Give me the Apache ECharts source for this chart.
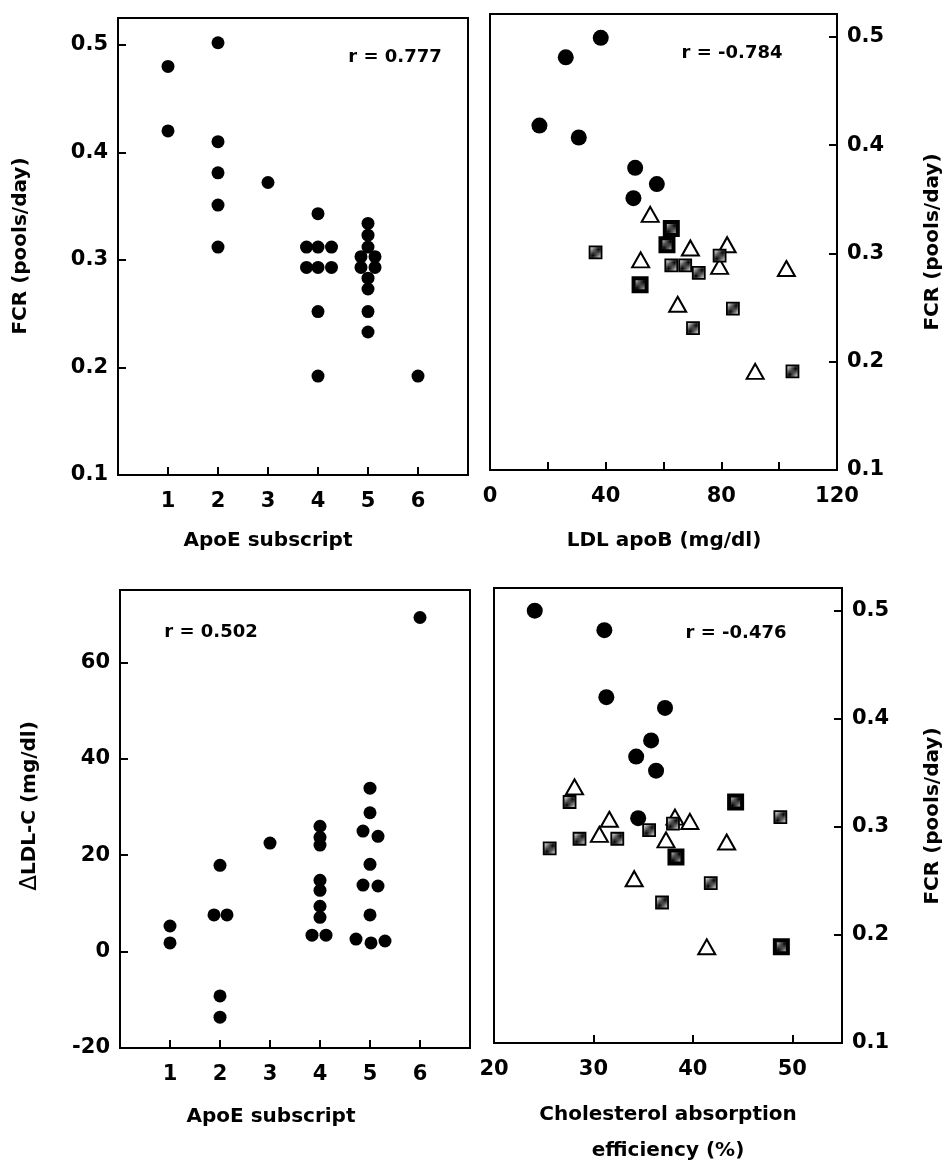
<!DOCTYPE html>
<html><head><meta charset="utf-8">
<script src="https://cdn.jsdelivr.net/npm/echarts@6/dist/echarts.min.js"></script>
<style>html,body{margin:0;padding:0;background:#fff}#c{width:952px;height:1163px}</style>
</head><body><div id="c"></div>
<script>
// Panel 1: ApoE subscript vs FCR
const p1X = [1,1, 2,2,2,2,2, 3, 4, 3.77,4,4.27, 3.77,4,4.27, 4,4, 5,5,5, 4.86,5.14, 4.86,5.14, 5,5,5,5, 6];
const p1Y = [0.48,0.42, 0.502,0.41,0.381,0.351,0.312, 0.372, 0.343, 0.312,0.312,0.312, 0.293,0.293,0.293, 0.252,0.192, 0.334,0.323,0.312, 0.303,0.303, 0.293,0.293, 0.283,0.273,0.252,0.233, 0.192];
// Panel 2: LDL apoB vs FCR
const p2CircX = [26.2, 38.3, 17.1, 30.7, 50.2, 57.7, 49.6];
const p2CircY = [0.481, 0.499, 0.418, 0.407, 0.379, 0.364, 0.351];
const p2TriX = [55.4, 69.3, 82.0, 52.1, 79.4, 102.5, 64.9, 91.7];
const p2TriY = [0.336, 0.305, 0.308, 0.294, 0.288, 0.286, 0.253, 0.191];
const p2SqX = [36.5, 62.7, 67.5, 72.2, 79.4, 84.0, 70.2, 104.6];
const p2SqY = [0.301, 0.289, 0.289, 0.282, 0.298, 0.249, 0.231, 0.191];
const p2BoxX = [62.7, 61.2, 51.9];
const p2BoxY = [0.323, 0.308, 0.271];
// Panel 3: ApoE subscript vs delta LDL-C
const p3X = [1,1, 2,1.88,2.14,2,2, 3, 4,4,4,4,4,4,4,3.84,4.12, 5,5,4.86,5.16,5,4.86,5.16,5,4.72,5.02,5.3, 6];
const p3Y = [5.3,1.8, 17.9,7.6,7.6,-9.2,-13.6, 22.5, 26.0,23.7,22.1,14.8,12.7,9.4,7.1,3.4,3.4, 33.9,28.8,25.0,23.9,18.1,13.8,13.6,7.6,2.6,1.8,2.2, 69.3];
// Panel 4: Cholesterol absorption efficiency vs FCR
const p4CircX = [24.1, 31.1, 31.3, 37.2, 35.8, 34.3, 36.3, 34.5];
const p4CircY = [0.500, 0.482, 0.420, 0.410, 0.380, 0.365, 0.352, 0.308];
const p4TriX = [28.1, 31.6, 30.6, 38.2, 39.7, 37.3, 43.4, 34.1, 41.4];
const p4TriY = [0.337, 0.307, 0.293, 0.309, 0.305, 0.288, 0.286, 0.252, 0.189];
const p4SqX = [27.6, 48.8, 35.6, 38.0, 28.6, 32.4, 25.6, 41.8, 36.9];
const p4SqY = [0.323, 0.309, 0.297, 0.303, 0.289, 0.289, 0.280, 0.248, 0.230];
const p4BoxX = [44.3, 38.3, 48.9];
const p4BoxY = [0.323, 0.272, 0.189];
// annotations / titles
const rTexts = ['r = 0.777', 'r = -0.784', 'r = 0.502', 'r = -0.476'];
const fcrTitle = 'FCR (pools/day)';
const apoeTitle = 'ApoE subscript';
const ldlTitle = 'LDL apoB (mg/dl)';
const absTitle = ['Cholesterol absorption', 'efficiency (%)'];
const dLdlTitle = 'LDL-C (mg/dl)';

const zip = (a, b) => a.map((v, i) => [v, b[i]]);
const FONT = 'DejaVu Sans';

function hatch() {
  const n = 6;
  const c = document.createElement('canvas');
  c.width = n; c.height = n;
  const g = c.getContext('2d');
  g.fillStyle = '#fff'; g.fillRect(0, 0, n, n);
  g.strokeStyle = '#000'; g.lineWidth = 1.3;
  g.beginPath();
  g.moveTo(-1, n + 1); g.lineTo(n + 1, -1);
  g.moveTo(-n / 2 - 1, n / 2 + 1); g.lineTo(n / 2 + 1, -n / 2 - 1);
  g.moveTo(n / 2 - 1, n * 1.5 + 1); g.lineTo(n * 1.5 + 1, n / 2 - 1);
  g.stroke();
  return c;
}
const HATCH = { image: hatch(), repeat: 'repeat' };

const lbl = { color: '#000', fontFamily: FONT, fontWeight: 'bold', fontSize: 21 };
const tenth = v => Math.abs(v * 10 - Math.round(v * 10)) < 1e-6 ? v.toFixed(1) : '';

function xAx(gi, min, max, interval, fmt) {
  return { gridIndex: gi, type: 'value', min, max, interval,
    axisLine: { show: true, onZero: false, lineStyle: { color: '#000', width: 2 } },
    axisTick: { show: true, inside: true, length: 8, lineStyle: { color: '#000', width: 2 } },
    axisLabel: Object.assign({ margin: 16, formatter: fmt, showMaxLabel: true }, lbl),
    splitLine: { show: false } };
}
function yAx(gi, min, max, interval, fmt, pos) {
  return { gridIndex: gi, type: 'value', min, max, interval, position: pos,
    axisLine: { show: true, onZero: false, lineStyle: { color: '#000', width: 2 } },
    axisTick: { show: true, inside: true, length: 8, lineStyle: { color: '#000', width: 2 } },
    axisLabel: Object.assign({ margin: 10, formatter: fmt }, lbl),
    splitLine: { show: false } };
}
const gridBase = { show: true, borderColor: '#000', borderWidth: 2, backgroundColor: 'transparent' };

const dot = (xi, data, size) => ({ type: 'scatter', xAxisIndex: xi, yAxisIndex: xi, data, symbol: 'circle', symbolSize: size,
  itemStyle: { color: '#000', opacity: 1 }, emphasis: { disabled: true }, z: 2 });
const tri = (xi, data) => ({ type: 'scatter', xAxisIndex: xi, yAxisIndex: xi, data, symbol: 'triangle', symbolSize: [17, 15],
  itemStyle: { color: '#fff', borderColor: '#000', borderWidth: 2, opacity: 1 }, emphasis: { disabled: true }, z: 3 });
const sq = (xi, data) => ({ type: 'scatter', xAxisIndex: xi, yAxisIndex: xi, data, symbol: 'rect', symbolSize: 12,
  itemStyle: { color: HATCH, borderColor: '#000', borderWidth: 1.8, opacity: 1 }, emphasis: { disabled: true }, z: 4 });
const box = (xi, data) => ({ type: 'scatter', xAxisIndex: xi, yAxisIndex: xi, data, symbol: 'rect', symbolSize: 13,
  itemStyle: { color: HATCH, borderColor: '#000', borderWidth: 4, opacity: 1 }, emphasis: { disabled: true }, z: 5 });

const txt = (x, y, text, size, rot, extra) => ({ type: 'text', x, y, rotation: rot || 0, silent: true,
  style: Object.assign({ text, x: 0, y: 0, fill: '#000', font: 'bold ' + size + 'px "' + FONT + '"', textAlign: 'center', textVerticalAlign: 'middle' }, extra || {}) });

const option = {
  animation: false,
  backgroundColor: '#fff',
  grid: [
    Object.assign({ left: 118, top: 18, width: 350, height: 457 }, gridBase),
    Object.assign({ left: 490, top: 14, width: 347, height: 456 }, gridBase),
    Object.assign({ left: 120, top: 590, width: 350, height: 458 }, gridBase),
    Object.assign({ left: 494, top: 588, width: 348, height: 455 }, gridBase)
  ],
  xAxis: [
    xAx(0, 0, 7, 1, v => (v >= 1 && v <= 6) ? String(v) : ''),
    xAx(1, 0, 120, 20, v => v % 40 === 0 ? String(v) : ''),
    xAx(2, 0, 7, 1, v => (v >= 1 && v <= 6) ? String(v) : ''),
    xAx(3, 20, 55, 10, v => v % 10 === 0 ? String(v) : '')
  ],
  yAxis: [
    yAx(0, 0.1, 0.525, 0.1, tenth, 'left'),
    yAx(1, 0.1, 0.521, 0.1, tenth, 'right'),
    yAx(2, -20, 75, 20, v => v % 20 === 0 ? String(v) : '', 'left'),
    yAx(3, 0.1, 0.521, 0.1, tenth, 'right')
  ],
  series: [
    dot(0, zip(p1X, p1Y), 13),
    dot(1, zip(p2CircX, p2CircY), 16),
    tri(1, zip(p2TriX, p2TriY)),
    sq(1, zip(p2SqX, p2SqY)),
    box(1, zip(p2BoxX, p2BoxY)),
    dot(2, zip(p3X, p3Y), 13),
    dot(3, zip(p4CircX, p4CircY), 16),
    tri(3, zip(p4TriX, p4TriY)),
    sq(3, zip(p4SqX, p4SqY)),
    box(3, zip(p4BoxX, p4BoxY))
  ],
  graphic: [
    txt(395, 57, rTexts[0], 18),
    txt(732, 53, rTexts[1], 18),
    txt(211, 632, rTexts[2], 18),
    txt(736, 633, rTexts[3], 18),
    txt(21, 246, fcrTitle, 20, Math.PI / 2),
    txt(933, 242, fcrTitle, 20, Math.PI / 2),
    txt(933, 816, fcrTitle, 20, Math.PI / 2),
    { type: 'text', x: 30, y: 806, rotation: Math.PI / 2, silent: true,
      style: { text: '{d|\u0394}{t|' + dLdlTitle + '}', x: 0, y: 0, textAlign: 'center', textVerticalAlign: 'middle',
        rich: { d: { fontFamily: FONT, fontWeight: 'normal', fontSize: 23, color: '#000' },
                t: { fontFamily: FONT, fontWeight: 'bold', fontSize: 20, color: '#000' } } } },
    txt(268, 541, apoeTitle, 20),
    txt(664, 541, ldlTitle, 20),
    txt(271, 1117, apoeTitle, 20),
    txt(668, 1115, absTitle[0], 20),
    txt(668, 1151, absTitle[1], 20)
  ]
};
const chart = echarts.init(document.getElementById('c'), null, { renderer: 'canvas' });
chart.setOption(option);
</script></body></html>
